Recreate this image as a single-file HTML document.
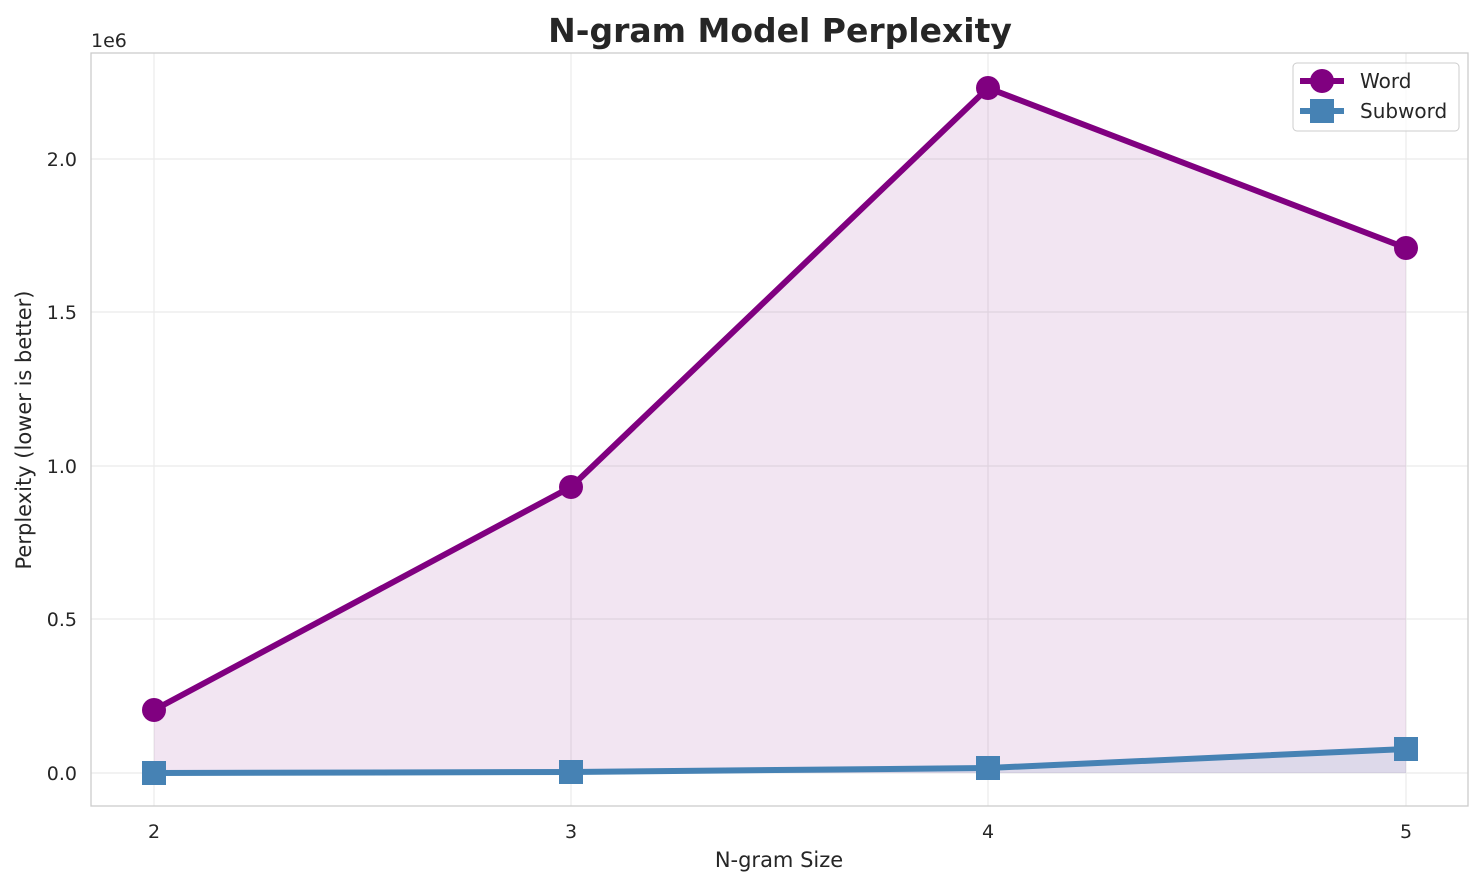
<!DOCTYPE html>
<html><head><meta charset="utf-8"><style>
html,body{margin:0;padding:0;background:#fff;}
svg{display:block;font-family:"DejaVu Sans","Liberation Sans",sans-serif;}
</style></head><body>
<svg width="1484" height="885" viewBox="0 0 1484 885" xmlns="http://www.w3.org/2000/svg">
<rect width="1484" height="885" fill="#fff"/>
<g stroke="#ebebeb" stroke-width="1.2">
<line x1="154" y1="53" x2="154" y2="806"/><line x1="571" y1="53" x2="571" y2="806"/>
<line x1="988" y1="53" x2="988" y2="806"/><line x1="1406" y1="53" x2="1406" y2="806"/>
<line x1="91" y1="773" x2="1468" y2="773"/><line x1="91" y1="619" x2="1468" y2="619"/>
<line x1="91" y1="466" x2="1468" y2="466"/><line x1="91" y1="312" x2="1468" y2="312"/>
<line x1="91" y1="159" x2="1468" y2="159"/>
</g>
<polygon points="154,710 571,487 988,88 1406,248 1406,773 154,773" fill="#800080" fill-opacity="0.1"/>
<polygon points="154,773 571,772 988,768 1406,749 1406,773 154,773" fill="#4682b4" fill-opacity="0.12"/>
<polyline points="154,710 571,487 988,88 1406,248" fill="none" stroke="#800080" stroke-width="6" stroke-linejoin="round"/>
<polyline points="154,773 571,772 988,768 1406,749" fill="none" stroke="#4682b4" stroke-width="6" stroke-linejoin="round"/>
<g fill="#800080">
<circle cx="154" cy="710" r="12"/><circle cx="571" cy="487" r="12"/>
<circle cx="988" cy="88" r="12"/><circle cx="1406" cy="248" r="12"/>
</g>
<g fill="#4682b4">
<rect x="142" y="761" width="24" height="24"/><rect x="559" y="760" width="24" height="24"/>
<rect x="976" y="756" width="24" height="24"/><rect x="1394" y="737" width="24" height="24"/>
</g>
<rect x="91" y="53" width="1377" height="753" fill="none" stroke="#cccccc" stroke-width="1.3"/>
<g font-size="19" fill="#262626" text-anchor="middle">
<text x="154" y="838">2</text><text x="571" y="838">3</text>
<text x="988" y="838">4</text><text x="1406" y="838">5</text>
</g>
<g font-size="19" fill="#262626" text-anchor="end">
<text x="77" y="780">0.0</text><text x="77" y="626">0.5</text>
<text x="77" y="473">1.0</text><text x="77" y="319">1.5</text>
<text x="77" y="166">2.0</text>
</g>
<text x="91" y="47" font-size="19" fill="#262626">1e6</text>
<text x="779" y="867" font-size="21" fill="#262626" text-anchor="middle">N-gram Size</text>
<text transform="translate(31,430) rotate(-90)" font-size="21" fill="#262626" text-anchor="middle">Perplexity (lower is better)</text>
<text x="780" y="42" font-size="33" font-weight="bold" fill="#262626" text-anchor="middle">N-gram Model Perplexity</text>
<rect x="1293" y="63" width="166" height="68" rx="4" fill="#fff" fill-opacity="0.8" stroke="#cccccc"/>
<line x1="1300" y1="81" x2="1344" y2="81" stroke="#800080" stroke-width="6"/>
<circle cx="1322" cy="81" r="12" fill="#800080"/>
<text x="1360" y="88" font-size="20" fill="#262626">Word</text>
<line x1="1300" y1="111" x2="1344" y2="111" stroke="#4682b4" stroke-width="6"/>
<rect x="1310" y="99" width="24" height="24" fill="#4682b4"/>
<text x="1360" y="118" font-size="20" fill="#262626">Subword</text>
</svg>
</body></html>
